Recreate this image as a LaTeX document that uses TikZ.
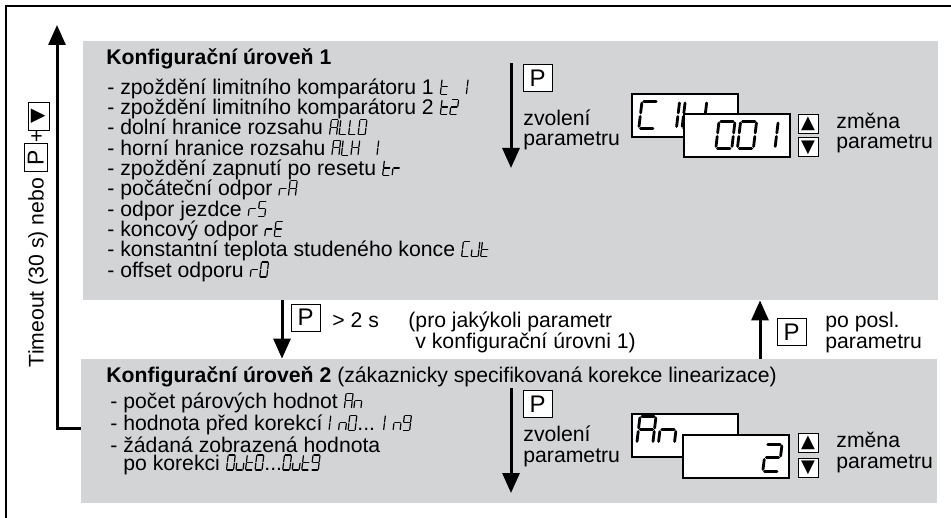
\documentclass[tikz,border=0pt]{standalone}
\usepackage{fontspec}
\setmainfont{Liberation Sans}
\newfontfamily\symfont{DejaVu Sans}
\usetikzlibrary{arrows.meta,positioning}

\definecolor{lvlgray}{RGB}{211,212,214}

% seven segment characters, one cell is 1 wide and 2 high
\newcommand\defseg[2]{\expandafter\def\csname lcdseg@#1\endcsname{#2}}
\newcommand\defchar[2]{\expandafter\def\csname lcdch@#1\endcsname{#2}}
\defseg{a}{(0,2) -- (1,2)}
\defseg{b}{(1,2) -- (1,1)}
\defseg{c}{(1,1) -- (1,0)}
\defseg{d}{(1,0) -- (0,0)}
\defseg{e}{(0,0) -- (0,1)}
\defseg{f}{(0,1) -- (0,2)}
\defseg{g}{(0,1) -- (1,1)}
\defseg{x}{(0,0)}
\defchar{0}{a,b,c,d,e,f}
\defchar{1}{b,c}
\defchar{2}{a,b,g,e,d}
\defchar{5}{a,f,g,c,d}
\defchar{9}{a,b,c,d,f,g}
\defchar{A}{a,b,c,e,f,g}
\defchar{C}{a,f,e,d}
\defchar{E}{a,f,g,e,d}
\defchar{H}{b,c,e,f,g}
\defchar{I}{e,f}
\defchar{J}{b,c,d,e}
\defchar{L}{d,e,f}
\defchar{O}{a,b,c,d,e,f}
\defchar{n}{c,e,g}
\defchar{r}{e,g}
\defchar{t}{d,e,f,g}
\defchar{u}{c,d,e}
\defchar{_}{x}

\tikzset{
  lcdsmall/.style={x=3.5pt,y=3.75pt,xslant=0.12,line width=0.6pt,line cap=round,
    shorten <=0.4pt,shorten >=0.4pt,baseline=0pt,/utils/exec={\def\lcdpitch{1.36}}},
  lcdbig/.style={lcdsmall,x=8pt,y=6.75pt,line width=1.4pt,shorten <=0.9pt,shorten >=0.9pt,
    /utils/exec={\def\lcdpitch{1.35}}}
}
\newcommand\lcd[2][lcdsmall]{\tikz[#1]{%
  \foreach \ch [count=\i from 0] in {#2}{%
    \edef\segs{\csname lcdch@\ch\endcsname}%
    \foreach \s in \segs {%
      \edef\segpath{\csname lcdseg@\s\endcsname}%
      \draw[shift={(\i*\lcdpitch,0)}] \segpath;}}}}
\newcommand\keybox[1]{{\setlength\fboxsep{1.5pt}\setlength\fboxrule{0.5pt}\fbox{\hspace{1.5pt}#1\hspace{1.5pt}}}}

\begin{document}
\begin{tikzpicture}[x=0.5pt,y=-0.5pt,
    level/.style={fill=lvlgray,inner sep=0},
    txt/.style={anchor=base west,inner sep=0,align=left,font=\fontsize{10.6}{10.15}\selectfont},
    pkey/.style={draw,fill=white,line width=0.5pt,inner sep=0,minimum width=14.5pt,minimum height=13.5pt,font=\fontsize{12}{12}\selectfont},
    arrkey/.style={draw,fill=white,line width=0.5pt,inner sep=0,minimum width=10pt,minimum height=9.5pt,font=\symfont\fontsize{9}{9}\selectfont},
    display/.style={draw,fill=white,line width=1pt,inner sep=0,minimum width=53pt,minimum height=21.5pt},
    flow/.style={-{Triangle[width=8.5pt,length=10pt]},line width=1.5pt}]
  \useasboundingbox (0,0) rectangle (951,518);
  \draw[line width=1pt] (6,518) -- (6,6) -- (951,6);

  % the two configuration levels (multi-line texts sit on their last baseline)
  \node[level,minimum width=427.5pt,minimum height=129.5pt] (lvlone) at (510.5,170.5) {};
  \node[level,minimum width=428pt,minimum height=72pt] (lvltwo) at (509,431) {};

  \node[txt,font=\bfseries\fontsize{10.6}{10.15}\selectfont] (titleone) at (106,65) {Konfigurační úroveň 1};
  \node[txt] (listone) at (107,277) {- zpoždění limitního komparátoru 1 \lcd{t,_,1}\\
    - zpoždění limitního komparátoru 2 \lcd{t,2}\\
    - dolní hranice rozsahu \lcd{A,L,L,O}\\
    - horní hranice rozsahu \lcd{A,L,H,_,1}\\
    - zpoždění zapnutí po resetu \lcd{t,r}\\
    - počáteční odpor \lcd{r,A}\\
    - odpor jezdce \lcd{r,5}\\
    - koncový odpor \lcd{r,E}\\
    - konstantní teplota studeného konce \lcd{C,J,t}\\
    - offset odporu \lcd{r,0}};

  \node[txt,font=\bfseries\fontsize{10.6}{10.15}\selectfont] (titletwo) at (106,382) {Konfigurační úroveň 2 {\mdseries(zákaznicky specifikovaná korekce linearizace)}};
  \node[txt,font=\fontsize{10.6}{8.85}\selectfont] (listtwo) at (110,470) {- počet párových hodnot \lcd{A,n}\\
    - hodnota před korekcí\ \lcd{I,n,0}... \lcd{I,n,9}\\
    - žádaná zobrazená hodnota\\
    \phantom{- }po korekci \lcd{O,u,t,0}...\lcd{O,u,t,9}};

  % parameter selection, level 1
  \coordinate (selonetop) at (511,63);
  \coordinate (selonebot) at (511,168);
  \draw[flow] (selonetop) -- (selonebot);
  \node[pkey] (pone) at (537.5,78) {P};
  \node[txt] (selone) at (523,146) {zvolení\\parametru};
  \node[display] (dispone) at (685,115.5) {};
  \node[anchor=south west,inner sep=0] (codeone) at (637,130) {\lcd[lcdbig]{C,1,L,L}};
  \node[display] (valone) at (737,136) {};
  \node[anchor=south west,inner sep=0] (numone) at (714,150) {\lcd[lcdbig]{0,0,1}};
  \node[arrkey] (upone) at (808,124) {▲};
  \node[arrkey] (downone) at (808,147.5) {▼};
  \node[txt] (chgone) at (836,149) {změna\\parametru};

  % parameter selection, level 2
  \coordinate (seltwotop) at (511,388);
  \coordinate (seltwobot) at (511,493);
  \draw[flow] (seltwotop) -- (seltwobot);
  \node[pkey] (ptwo) at (537.5,404) {P};
  \node[txt] (seltwo) at (523,462) {zvolení\\parametru};
  \node[display] (disptwo) at (684.5,435) {};
  \node[anchor=south west,inner sep=0] (codetwo) at (635,445) {\lcd[lcdbig]{A,n}};
  \node[display] (valtwo) at (735.5,456) {};
  \node[anchor=south west,inner sep=0] (numtwo) at (761,473) {\lcd[lcdbig]{2}};
  \node[arrkey] (uptwo) at (808,443) {▲};
  \node[arrkey] (downtwo) at (808,467.5) {▼};
  \node[txt] (chgtwo) at (836,468) {změna\\parametru};

  % switching between the levels
  \coordinate (hold) at (282,0);
  \coordinate (last) at (760,0);
  \draw[flow] (lvlone.south -| hold) -- (lvltwo.north -| hold);
  \draw[flow] (lvltwo.north -| last) -- (lvlone.south -| last);
  \node[pkey] (phold) at (305.5,317.5) {P};
  \node[txt] (holdtime) at (332,327) {> 2 s};
  \node[txt] (holdnote) at (408,348) {(pro jakýkoli parametr\\\hspace*{3.5pt}v konfigurační úrovni 1)};
  \node[pkey] (plast) at (791.5,332) {P};
  \node[txt] (lastnote) at (825,348) {po posl.\\parametru};

  % leaving the configuration
  \coordinate (exittop) at (57,25);
  \draw[flow] ([yshift=1.5pt]lvltwo.west) -| (exittop);
  \node[rotate=90,inner sep=0,font=\fontsize{10.6}{10.15}\selectfont] (timeout) at (37,234.5)
    {Timeout (30 s) nebo \keybox{\fontsize{11.5}{11.5}\selectfont P}+\keybox{\symfont\fontsize{9.5}{9.5}\selectfont ▼}};
\end{tikzpicture}
\end{document}
